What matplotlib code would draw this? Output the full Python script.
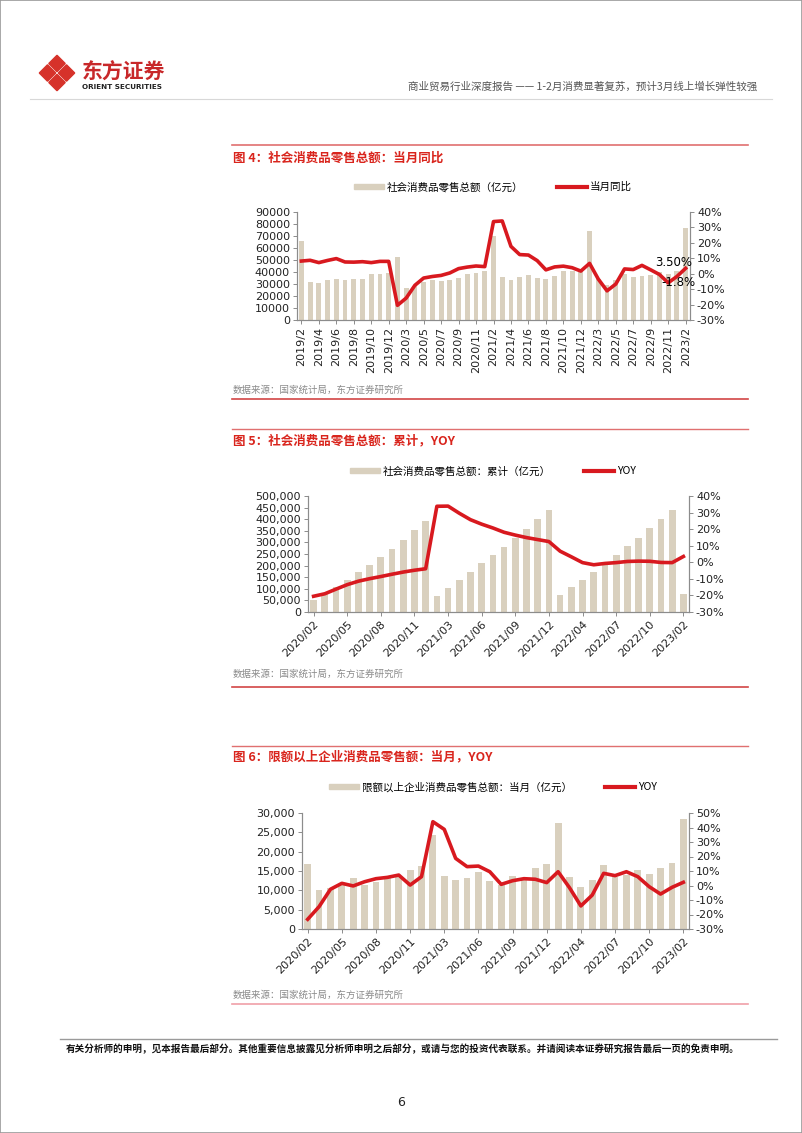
import matplotlib
matplotlib.use("Agg")
import numpy as np
import matplotlib.pyplot as plt
from matplotlib.patches import Polygon, Rectangle
from matplotlib.lines import Line2D
from matplotlib.ticker import FuncFormatter, MultipleLocator

plt.rcParams["font.family"] = ["DejaVu Sans", "Noto Sans CJK SC"]
CJK = ["Noto Sans CJK SC", "DejaVu Sans"]

# ---- data -------------------------------------------------------------
months1 = ["2019/2", "2019/3", "2019/4", "2019/5", "2019/6", "2019/7", "2019/8", "2019/9",
           "2019/10", "2019/11", "2019/12",
           "2020/2", "2020/3", "2020/4", "2020/5", "2020/6", "2020/7", "2020/8", "2020/9",
           "2020/10", "2020/11", "2020/12",
           "2021/2", "2021/3", "2021/4", "2021/5", "2021/6", "2021/7", "2021/8", "2021/9",
           "2021/10", "2021/11", "2021/12",
           "2022/2", "2022/3", "2022/4", "2022/5", "2022/6", "2022/7", "2022/8", "2022/9",
           "2022/10", "2022/11", "2022/12", "2023/2"]
retail_month = [66064, 31726, 30586, 32956, 33878, 33073, 33896, 34495, 38104, 38094, 38777,
                52130, 26450, 28178, 31973, 33526, 32203, 33571, 35295, 38576, 39514, 40566,
                69737, 35484, 33153, 35945, 37586, 34925, 34395, 36833, 40454, 41043, 41269,
                74426, 34233, 29483, 33547, 38742, 35870, 36258, 37745, 40271, 38615, 40542,
                77067]
retail_month_yoy = [8.2, 8.7, 7.2, 8.6, 9.8, 7.6, 7.5, 7.8, 7.2, 8.0, 8.0,
                    -20.5, -15.8, -7.5, -2.8, -1.8, -1.1, 0.5, 3.3, 4.3, 5.0, 4.6,
                    33.8, 34.2, 17.7, 12.4, 12.1, 8.5, 2.5, 4.4, 4.9, 3.9, 1.7,
                    6.7, -3.5, -11.1, -6.7, 3.1, 2.7, 5.4, 2.5, -0.5, -5.9, -1.8,
                    3.5]

months2 = ["2020/02", "2020/03", "2020/04", "2020/05", "2020/06", "2020/07", "2020/08",
           "2020/09", "2020/10", "2020/11", "2020/12",
           "2021/02", "2021/03", "2021/04", "2021/05", "2021/06", "2021/07", "2021/08",
           "2021/09", "2021/10", "2021/11", "2021/12",
           "2022/02", "2022/03", "2022/04", "2022/05", "2022/06", "2022/07", "2022/08",
           "2022/09", "2022/10", "2022/11", "2022/12", "2023/02"]
retail_cum = [52130, 78580, 106758, 138730, 172256, 204459, 238030, 273324, 311900, 351414, 391981,
              69737, 105221, 138373, 174319, 211904, 246829, 281224, 318057, 358511, 399554, 440823,
              74426, 108659, 138142, 171689, 210432, 246302, 282560, 320305, 360575, 399190, 439733,
              77067]
retail_cum_yoy = [-20.5, -19.0, -16.2, -13.5, -11.4, -9.9, -8.6, -7.2, -5.9, -4.8, -3.9,
                  33.8, 33.9, 29.6, 25.7, 23.0, 20.7, 18.1, 16.4, 14.9, 13.7, 12.5,
                  6.7, 3.3, -0.2, -1.5, -0.7, -0.2, 0.5, 0.7, 0.6, -0.1, -0.2,
                  3.5]

above_month = [16900, 10000, 10600, 11400, 13100, 11400, 12200, 13100, 13400, 15300, 16300,
               24300, 13700, 12700, 13200, 14800, 12400, 11400, 13700, 13300, 15900, 16700,
               27300, 13500, 10900, 12700, 16500, 13500, 14000, 15300, 14200, 15700, 17100,
               28500]
above_month_yoy = [-23.3, -14.6, -2.6, 1.5, -0.3, 2.6, 4.7, 5.6, 7.2, 0.3, 6.1,
                   44.0, 38.7, 18.7, 13.0, 13.4, 9.5, 0.8, 3.3, 4.7, 4.3, 2.0,
                   9.5, -1.5, -14.1, -6.6, 8.4, 6.8, 9.5, 6.1, -0.8, -5.9, -1.3,
                   2.2]

# ---- page helpers -----------------------------------------------------
W, H = 802, 1133
BAR_C = "#D9D0BE"
LINE_C = "#D8191F"
RED = "#D9251D"
AX_C = "#8C8C8C"

fig = plt.figure(figsize=(W / 100, H / 100), dpi=100)


def fx(x):
    return x / W


def fy(y):
    return 1 - y / H


def hline(y, x0, x1, color, lw=1.0):
    fig.add_artist(Line2D([fx(x0), fx(x1)], [fy(y), fy(y)], color=color, lw=lw))


def text(x, y, s, **kw):
    fig.text(fx(x), fy(y), s, **kw)


def combo(box, labels, bars, yoy, ymax, ystep, rmin, rmax, every, rot, comma,
          bar_w, bar_name, line_name, leg_y):
    x0, y0, x1, y1 = box
    ax = fig.add_axes([fx(x0), fy(y1), (x1 - x0) / W, (y1 - y0) / H])
    x = np.arange(len(bars))
    ax.bar(x, bars, width=bar_w, color=BAR_C, zorder=2)
    ax.set_xlim(-0.5, len(bars) - 0.5)
    ax.set_ylim(0, ymax)
    ax.yaxis.set_major_locator(MultipleLocator(ystep))
    if comma:
        ax.yaxis.set_major_formatter(FuncFormatter(lambda v, p: f"{int(v):,}"))
    else:
        ax.yaxis.set_major_formatter(FuncFormatter(lambda v, p: f"{int(v)}"))
    ticks = list(range(0, len(bars), every))
    ax.set_xticks(ticks)
    if rot == 90:
        ax.set_xticklabels([labels[i] for i in ticks], rotation=90, va="top", ha="center")
    else:
        ax.set_xticklabels([labels[i] for i in ticks], rotation=rot, ha="right",
                           rotation_mode="anchor")

    ax2 = ax.twinx()
    ax2.plot(x, np.array(yoy) / 100, color=LINE_C, lw=2.6, zorder=3,
             solid_joinstyle="round")
    ax2.set_ylim(rmin / 100, rmax / 100)
    ax2.yaxis.set_major_locator(MultipleLocator(0.1))
    ax2.yaxis.set_major_formatter(FuncFormatter(lambda v, p: f"{round(v * 100):d}%"))

    for a in (ax, ax2):
        a.spines["top"].set_visible(False)
        for s in ("left", "right", "bottom"):
            a.spines[s].set_color(AX_C)
            a.spines[s].set_linewidth(0.8)
        a.tick_params(colors=AX_C, labelcolor="#222222", labelsize=8, length=3, width=0.7)
        a.set_facecolor("none")
    ax.tick_params(axis="y", pad=2)
    ax2.tick_params(axis="y", pad=2)
    ax.tick_params(axis="x", pad=2)

    handles = [Rectangle((0, 0), 1, 1, color=BAR_C), Line2D([], [], color=LINE_C, lw=3)]
    fig.legend(handles, [bar_name, line_name], loc="center", ncol=2, frameon=False,
               bbox_to_anchor=(fx(493), fy(leg_y)), prop={"family": CJK, "size": 7.6},
               handlelength=2.8, handleheight=0.45, columnspacing=3.2, handletextpad=0.3)
    return ax, ax2


# ---- header -----------------------------------------------------------
fig.add_artist(Rectangle((0, 0), 1, 1, transform=fig.transFigure, fill=False,
                         edgecolor="#9A9A9A", lw=1.2))
cx, cy, d = 57, 73, 8.2
for dx, dy in ((0, -9.5), (-9.5, 0), (9.5, 0), (0, 9.5)):
    px, py = cx + dx, cy + dy
    pts = [(fx(px), fy(py - d)), (fx(px + d), fy(py)), (fx(px), fy(py + d)), (fx(px - d), fy(py))]
    fig.add_artist(Polygon(pts, closed=True, color="#D6322A", transform=fig.transFigure))
text(82, 72, "东方证券", family=CJK, fontsize=15, fontweight="bold", color="#C8282A",
     va="center")
text(82, 87, "ORIENT SECURITIES", family="DejaVu Sans", fontsize=5.2, fontweight="bold",
     color="#222222", va="center")
text(757, 87, "商业贸易行业深度报告 —— 1-2月消费显著复苏，预计3月线上增长弹性较强",
     family=CJK, fontsize=7.6, color="#555555", ha="right", va="center")
hline(99, 30, 772, "#D8D8D8", 0.8)

# ---- figure 4 ---------------------------------------------------------
hline(145, 232, 748, "#E07070", 1.2)
text(233, 158, "图 4：社会消费品零售总额：当月同比", family=CJK, fontsize=9,
     fontweight="bold", color=RED, va="center")
ax, ax2 = combo((297, 212, 690, 320), months1, retail_month, retail_month_yoy,
                90000, 10000, -30, 40, 2, 90, False, 0.55,
                "社会消费品零售总额（亿元）", "当月同比", 187)
ax2.annotate("3.50%", (44, 0.035), xytext=(44.7, 0.075), ha="right", va="center",
             fontsize=8.5)
ax2.annotate("-1.8%", (42, -0.018), xytext=(43.2, -0.06), ha="center", va="center",
             fontsize=8.5)
text(233, 390, "数据来源：国家统计局，东方证券研究所", family=CJK, fontsize=6.8,
     color="#8A8A8A", va="center")
hline(399, 232, 748, "#D24545", 1.2)

# ---- figure 5 ---------------------------------------------------------
hline(429, 232, 748, "#E07070", 1.0)
text(233, 441, "图 5：社会消费品零售总额：累计，YOY", family=CJK, fontsize=9,
     fontweight="bold", color=RED, va="center")
combo((308, 496, 689, 612), months2, retail_cum, retail_cum_yoy,
      500000, 50000, -30, 40, 3, 45, True, 0.6,
      "社会消费品零售总额：累计（亿元）", "YOY", 471)
text(233, 674, "数据来源：国家统计局，东方证券研究所", family=CJK, fontsize=6.8,
     color="#8A8A8A", va="center")
hline(687, 232, 748, "#D24545", 1.2)

# ---- figure 6 ---------------------------------------------------------
hline(746, 232, 748, "#E07070", 1.0)
text(233, 757, "图 6：限额以上企业消费品零售额：当月，YOY", family=CJK, fontsize=9,
     fontweight="bold", color=RED, va="center")
combo((302, 813, 689, 929), months2, above_month, above_month_yoy,
      30000, 5000, -30, 50, 3, 45, True, 0.6,
      "限额以上企业消费品零售总额：当月（亿元）", "YOY", 787)
text(233, 995, "数据来源：国家统计局，东方证券研究所", family=CJK, fontsize=6.8,
     color="#8A8A8A", va="center")
hline(1004, 232, 748, "#F0A0A8", 1.2)

# ---- footer -----------------------------------------------------------
hline(1039, 60, 777, "#9A9A9A", 1.0)
text(66, 1049, "有关分析师的申明，见本报告最后部分。其他重要信息披露见分析师申明之后部分，"
     "或请与您的投资代表联系。并请阅读本证券研究报告最后一页的免责申明。",
     family=CJK, fontsize=6.9, fontweight="bold", color="#111111", va="center")
text(401, 1102, "6", fontsize=9, ha="center", va="center", color="#222222")

fig.savefig("out.png", dpi=100)
